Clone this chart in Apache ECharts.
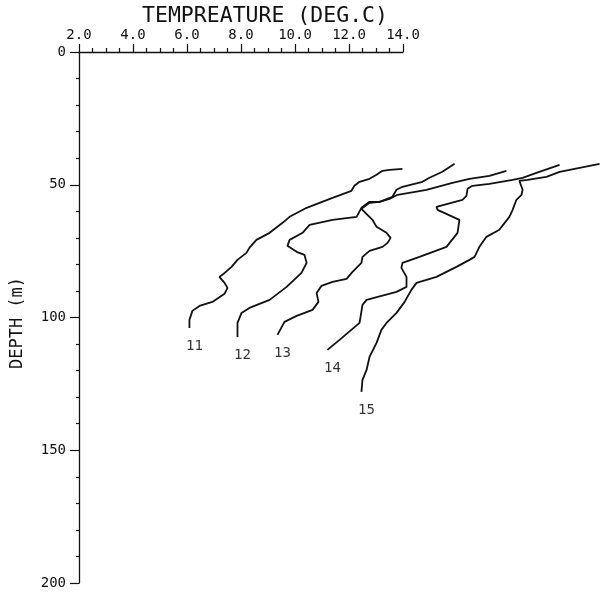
<!DOCTYPE html>
<html>
<head>
<meta charset="utf-8">
<script src="https://cdn.jsdelivr.net/npm/echarts@6/dist/echarts.min.js"></script>
<style>
  html, body { margin: 0; padding: 0; background: #fff; }
  #chart { width: 600px; height: 594px; }
</style>
</head>
<body>
<div id="chart"></div>
<script>
// Temperature profiles (deg C) against depth (m), one pair of arrays per station.
const stationNames = ['11', '12', '13', '14', '15'];

const temp11  = [13.98, 13.50, 13.24, 13.02, 12.76, 12.39, 12.20, 12.09, 11.39, 10.91, 10.43, 9.80, 9.54, 9.06, 8.57, 8.31, 8.20, 7.87, 7.65, 7.31, 7.20, 7.39, 7.50, 7.39, 6.94, 6.46, 6.20, 6.09, 6.09];
const depth11 = [43.99, 44.36, 44.74, 46.25, 47.76, 48.89, 50.40, 52.28, 54.92, 56.80, 58.69, 62.08, 64.34, 68.11, 70.75, 73.77, 75.65, 78.29, 80.93, 83.94, 84.70, 86.96, 88.84, 91.10, 94.12, 95.63, 97.51, 100.90, 103.92];

const temp12  = [15.91, 15.46, 14.98, 14.72, 13.98, 13.76, 13.61, 13.13, 12.76, 12.46, 12.28, 11.39, 10.54, 10.28, 9.80, 9.72, 10.06, 10.35, 10.43, 10.24, 9.69, 9.06, 8.31, 8.02, 7.87, 7.87];
const depth12 = [42.10, 45.12, 47.38, 48.89, 50.77, 51.90, 54.54, 56.43, 56.43, 58.69, 62.08, 63.21, 65.10, 68.11, 70.75, 73.01, 75.27, 76.40, 79.42, 83.19, 88.47, 93.37, 96.38, 98.27, 102.04, 107.31];

const temp13  = [17.83, 17.20, 16.46, 15.83, 14.87, 13.80, 13.50, 13.13, 12.76, 12.46, 12.87, 13.02, 13.39, 13.54, 13.43, 13.24, 12.76, 12.50, 12.46, 12.13, 11.91, 11.39, 10.98, 10.80, 10.87, 10.65, 10.06, 9.61, 9.35];
const depth13 = [44.74, 46.63, 47.76, 49.26, 51.90, 53.79, 55.30, 56.43, 56.80, 59.06, 63.21, 65.85, 68.11, 70.00, 71.88, 73.39, 74.90, 77.16, 79.42, 82.81, 85.45, 86.58, 88.09, 90.73, 94.12, 97.14, 99.40, 101.66, 106.56];

const temp14  = [19.80, 18.94, 18.43, 18.06, 17.20, 16.57, 16.39, 16.35, 16.20, 15.24, 15.28, 16.09, 16.02, 15.61, 14.61, 13.98, 13.94, 14.13, 14.13, 13.76, 12.65, 12.50, 12.39, 11.65, 11.20];
const depth14 = [42.48, 45.50, 47.38, 48.13, 49.64, 50.40, 51.53, 54.17, 55.67, 58.31, 59.44, 63.21, 68.11, 73.39, 77.16, 79.42, 81.30, 84.70, 88.47, 90.35, 93.37, 95.25, 102.04, 108.44, 112.21];

const temp15  = [21.28, 19.80, 19.31, 18.61, 18.31, 18.43, 18.39, 18.20, 18.06, 17.94, 17.65, 17.57, 17.09, 16.83, 16.65, 16.46, 15.98, 15.24, 14.50, 14.31, 14.06, 13.76, 13.39, 13.20, 13.02, 12.76, 12.65, 12.50, 12.46];
const depth15 = [42.10, 45.12, 47.00, 48.13, 48.51, 51.90, 53.79, 55.67, 59.44, 62.08, 65.85, 66.98, 69.62, 73.39, 77.16, 78.29, 80.93, 84.70, 86.96, 89.60, 94.12, 98.27, 102.04, 104.67, 109.57, 114.85, 119.75, 123.52, 128.04];

const tempAxisRange = [2, 14];
const tempPlotMax = 22;          // profiles run on past the labelled end of the scale
const depthAxisRange = [0, 200];

const temps = [temp11, temp12, temp13, temp14, temp15];
const depths = [depth11, depth12, depth13, depth14, depth15];

const FONT = '"DejaVu Sans Mono", "Liberation Mono", monospace';
const INK = '#111';

// Frame geometry: the drawn scale spans 2..14 deg; a wider twin grid with the
// same pixels per degree carries the profiles so they are not cut at 14 deg.
const LEFT = 79, TOP = 52, HEIGHT = 531;
const PX_PER_DEG = 27;

const lineSeries = stationNames.map((name, i) => ({
  name: name,
  type: 'line',
  xAxisIndex: 1,
  yAxisIndex: 1,
  showSymbol: false,
  clip: false,
  lineStyle: { color: INK, width: 1.8 },
  data: temps[i].map((t, k) => [t, depths[i][k]])
}));

// Station numbers written just below the deepest reading of each profile.
const labelSeries = {
  type: 'scatter',
  xAxisIndex: 1,
  yAxisIndex: 1,
  symbolSize: 1,
  itemStyle: { color: 'rgba(0,0,0,0)' },
  label: {
    show: true,
    position: 'bottom',
    distance: 11,
    offset: [5, 0],
    color: '#000',
    fontFamily: FONT,
    fontSize: 14,
    formatter: p => p.name
  },
  data: stationNames.map((name, i) => ({
    name: name,
    value: [temps[i][temps[i].length - 1], depths[i][depths[i].length - 1]]
  }))
};

const chart = echarts.init(document.getElementById('chart'), null, { renderer: 'canvas' });
chart.setOption({
  animation: false,
  backgroundColor: '#fff',
  graphic: [{
    type: 'text',
    x: 265,
    y: 16,
    style: {
      text: 'TEMPREATURE (DEG.C)',
      fontFamily: FONT,
      fontSize: 21.5,
      fill: INK,
      align: 'center',
      verticalAlign: 'middle'
    }
  }, {
    type: 'text',
    x: 18,
    y: 323,
    rotation: Math.PI / 2,
    style: {
      text: 'DEPTH (m)',
      fontFamily: FONT,
      fontSize: 17,
      fill: INK,
      align: 'center',
      verticalAlign: 'middle'
    }
  }],
  grid: [
    {
      left: LEFT, top: TOP, height: HEIGHT,
      width: (tempAxisRange[1] - tempAxisRange[0]) * PX_PER_DEG,
      outerBoundsMode: 'none'
    },
    {
      left: LEFT, top: TOP, height: HEIGHT,
      width: (tempPlotMax - tempAxisRange[0]) * PX_PER_DEG,
      outerBoundsMode: 'none'
    }
  ],
  xAxis: [{
    type: 'value',
    gridIndex: 0,
    position: 'top',
    min: tempAxisRange[0],
    max: tempAxisRange[1],
    interval: 2,
    axisLine: { show: true, lineStyle: { color: INK, width: 1.3 } },
    axisTick: { show: true, length: 8, lineStyle: { color: INK, width: 1.2 } },
    minorTick: { show: true, splitNumber: 4, length: 4, lineStyle: { color: INK, width: 1.2 } },
    axisLabel: {
      margin: 10,
      color: INK,
      fontFamily: FONT,
      fontSize: 14,
      formatter: v => v.toFixed(1)
    },
    splitLine: { show: false }
  }, {
    type: 'value',
    gridIndex: 1,
    position: 'top',
    min: tempAxisRange[0],
    max: tempPlotMax,
    show: false
  }],
  yAxis: [{
    type: 'value',
    gridIndex: 0,
    inverse: true,
    min: depthAxisRange[0],
    max: depthAxisRange[1],
    interval: 50,
    axisLine: { show: true, lineStyle: { color: INK, width: 1.3 } },
    axisTick: { show: true, length: 9, lineStyle: { color: INK, width: 1.2 } },
    minorTick: { show: true, splitNumber: 5, length: 3, lineStyle: { color: INK, width: 1.2 } },
    axisLabel: {
      margin: 13,
      color: INK,
      fontFamily: FONT,
      fontSize: 14
    },
    splitLine: { show: false }
  }, {
    type: 'value',
    gridIndex: 1,
    inverse: true,
    min: depthAxisRange[0],
    max: depthAxisRange[1],
    show: false
  }],
  series: lineSeries.concat([labelSeries])
});
</script>
</body>
</html>
